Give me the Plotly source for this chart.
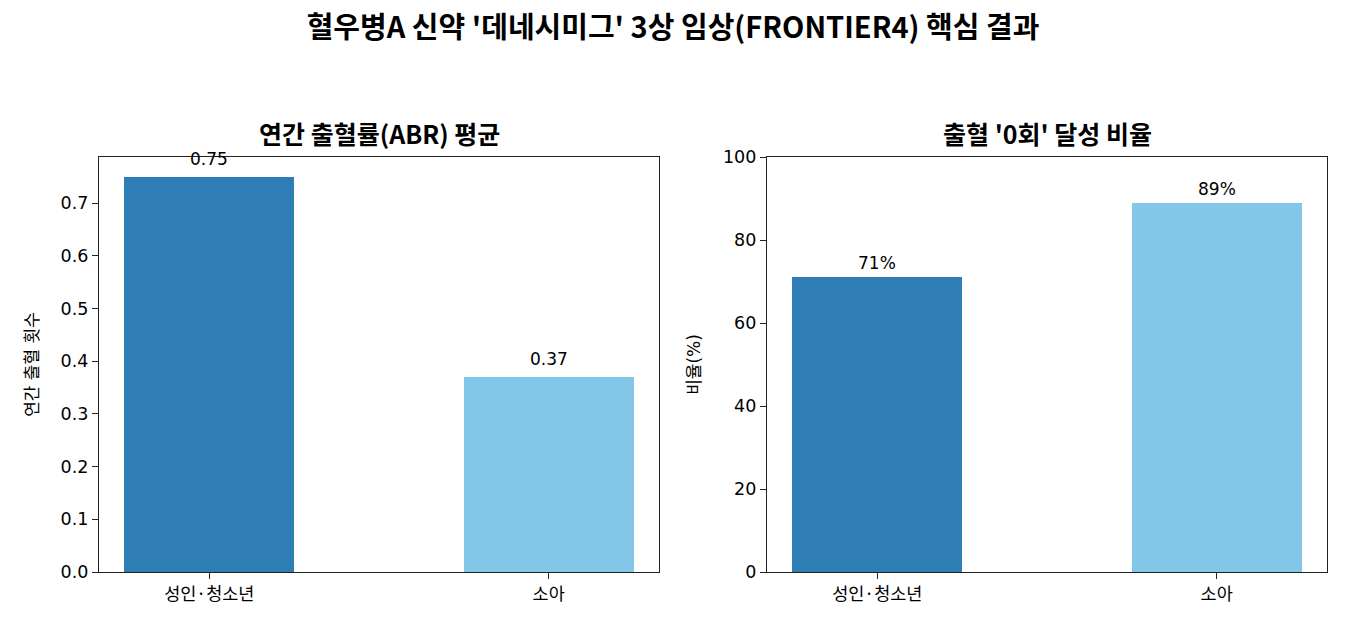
import plotly.graph_objects as go
from plotly.subplots import make_subplots

groups = ["성인·청소년", "소아"]
abr_mean = [0.75, 0.37]
zero_bleed_pct = [71, 89]
abr_labels = ["0.75", "0.37"]
pct_labels = ["71%", "89%"]

bar_colors = ["#2e7eb5", "#82c6e8"]
font_family = "DejaVu Sans, Noto Sans CJK KR"
title_family = "Noto Sans CJK KR"
axis_color = "#222222"

W, H = 1350, 630


def px_x(p):
    return p / W


def px_y(p):
    return 1 - p / H


fig = make_subplots(rows=1, cols=2)

fig.add_trace(go.Bar(x=[0, 1], y=abr_mean, width=0.5,
                     marker=dict(color=bar_colors, line=dict(width=0)),
                     showlegend=False, hoverinfo="y"), row=1, col=1)
fig.add_trace(go.Bar(x=[0, 1], y=zero_bleed_pct, width=0.5,
                     marker=dict(color=bar_colors, line=dict(width=0)),
                     showlegend=False, hoverinfo="y"), row=1, col=2)

annotations = []
for i, (v, t) in enumerate(zip(abr_mean, abr_labels)):
    annotations.append(dict(x=i, y=v, xref="x", yref="y", text=t, showarrow=False,
                            yanchor="bottom", yshift=6, font=dict(size=17, color="black")))
for i, (v, t) in enumerate(zip(zero_bleed_pct, pct_labels)):
    annotations.append(dict(x=i, y=v, xref="x2", yref="y2", text=t, showarrow=False,
                            yanchor="bottom", yshift=2, font=dict(size=17, color="black")))

# subplot titles
annotations.append(dict(x=px_x((99 + 659) / 2), y=px_y(133), xref="paper", yref="paper",
                        text="<b>연간 출혈률(ABR) 평균</b>", showarrow=False,
                        xanchor="center", yanchor="middle",
                        font=dict(size=25, color="black", family=title_family)))
annotations.append(dict(x=px_x((767 + 1327) / 2), y=px_y(133), xref="paper", yref="paper",
                        text="<b>출혈 '0회' 달성 비율</b>", showarrow=False,
                        xanchor="center", yanchor="middle",
                        font=dict(size=25, color="black", family=title_family)))

axis_common = dict(showline=True, linecolor=axis_color, linewidth=1.3, mirror=True,
                   ticks="outside", ticklen=6, tickwidth=1.3, tickcolor=axis_color,
                   showgrid=False, zeroline=False, automargin=False,
                   tickfont=dict(size=17.5, color="black"))

fig.update_xaxes(axis_common, range=[-0.325, 1.325], tickvals=[0, 1], ticktext=groups,
                 tickfont=dict(family=title_family, size=17.5, color="black"))
fig.update_xaxes(domain=[px_x(99), px_x(659)], row=1, col=1)
fig.update_xaxes(domain=[px_x(767), px_x(1327)], row=1, col=2)

fig.update_yaxes(axis_common, domain=[px_y(572), px_y(157)])
fig.update_yaxes(range=[0, 0.7875], dtick=0.1, tickformat=".1f",
                 title=dict(text="연간 출혈 횟수", font=dict(size=17, color="black"), standoff=17),
                 row=1, col=1)
fig.update_yaxes(range=[0, 100], dtick=20,
                 title=dict(text="비율(%)", font=dict(size=17, color="black"), standoff=17),
                 row=1, col=2)

fig.update_layout(
    width=W, height=H,
    margin=dict(l=0, r=0, t=0, b=0, autoexpand=False),
    paper_bgcolor="white", plot_bgcolor="white",
    font=dict(family=font_family, color="black"),
    title=dict(text="<b>혈우병A 신약 '데네시미그' 3상 임상(FRONTIER4) 핵심 결과</b>",
               x=px_x(673), xanchor="center", y=px_y(28), yanchor="middle",
               font=dict(size=29, color="black", family=title_family)),
    annotations=annotations,
    bargap=0,
)

# drop the browser's default 8px body margin so the figure fills the window
fig.write_html("out.html", config={"displayModeBar": False},
               post_script="document.body.style.margin='0';")
